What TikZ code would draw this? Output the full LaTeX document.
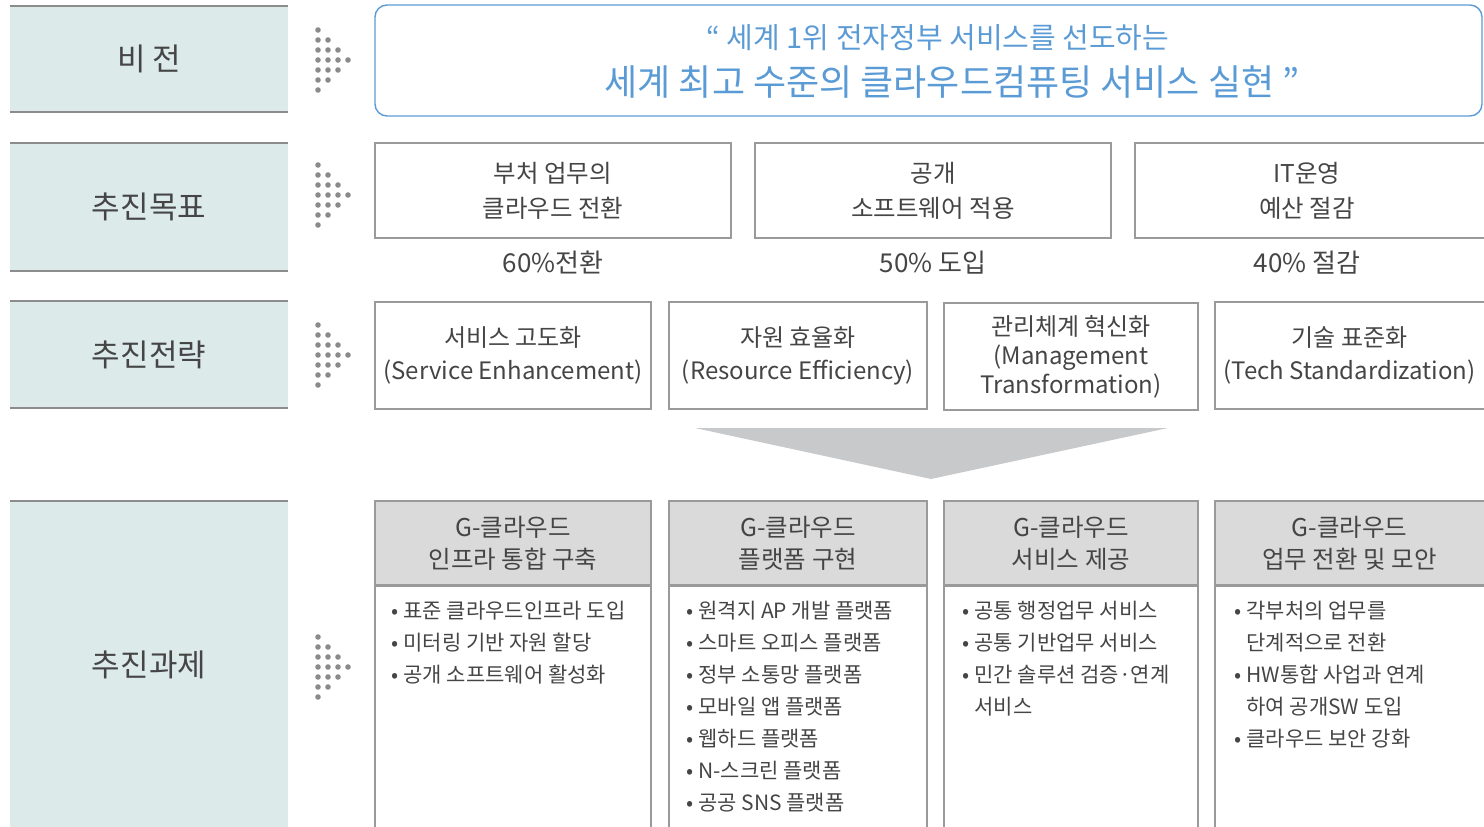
\documentclass[tikz,border=0pt]{standalone}
\usepackage{fontspec}
\setmainfont{Noto Sans CJK KR}
\usetikzlibrary{positioning}

\definecolor{labelfill}{HTML}{DDEAEA}
\definecolor{labelline}{HTML}{8C8C8C}
\definecolor{boxline}{HTML}{9A9A9A}
\definecolor{headfill}{HTML}{DADADA}
\definecolor{visionblue}{HTML}{5B9BD5}
\definecolor{textgray}{HTML}{454545}
\definecolor{dotgray}{HTML}{8A8A8A}
\definecolor{arrowgray}{HTML}{C8C9CB}

% dotted pointer left of every row
\newcommand{\dotpointer}[1]{%
  \foreach \row in {-3,...,3}{
    \pgfmathtruncatemacro{\ndots}{4-abs(\row)}
    \foreach \col in {1,...,\ndots}{
      \fill[dotgray] ({308+10*\col},{#1+10*\row}) circle (2.8pt);
    }
  }
}

\begin{document}
\begin{tikzpicture}[
    x=1pt, y=-1pt,
    every node/.style={text=textgray, inner sep=0pt},
    rowlabel/.style={fill=labelfill, minimum width=278pt, font=\fontsize{31}{34}\selectfont},
    labelrule/.style={draw=labelline, line width=1.6pt},
    goalbox/.style={draw=boxline, line width=1.3pt, align=center, font=\fontsize{24.5}{35}\selectfont},
    ratio/.style={font=\fontsize{26}{30}\selectfont},
    stratbox/.style={draw=boxline, line width=1.3pt, align=center, minimum height=107pt, font=\fontsize{24}{33}\selectfont},
    taskhead/.style={fill=headfill, draw=boxline, line width=1.3pt, align=center, minimum height=84pt, font=\fontsize{24.5}{32}\selectfont},
    taskbody/.style={draw=boxline, line width=1.3pt, minimum height=260pt},
    bullets/.style={align=left, anchor=north west, font=\fontsize{21}{32}\selectfont}
]
\useasboundingbox (0,0) rectangle (1484,827);
\clip (0,0) rectangle (1484,827);

% Row labels
\node[rowlabel, minimum height=106pt] (lvision) at (149,59) {비 전};
\node[rowlabel, minimum height=128pt] (lgoal) at (149,207) {추진목표};
\node[rowlabel, minimum height=107pt] (lstrat) at (149,354.5) {추진전략};
\node[rowlabel, minimum height=328pt] (ltask) at (149,665) {추진과제};
\foreach \lbl in {lvision, lgoal, lstrat, ltask}{
  \draw[labelrule] (\lbl.north west) -- (\lbl.north east);
  \draw[labelrule] (\lbl.south west) -- (\lbl.south east);
}

% Pointers
\dotpointer{60}
\dotpointer{195}
\dotpointer{355}
\dotpointer{667}

% Vision
\node[draw=visionblue, line width=1.4pt, rounded corners=12pt,
      minimum width=1107pt, minimum height=111pt] (vision) at (928.5,60.5) {};
\node[align=center, text=visionblue] (visiontext) at (952,61)
  {{\fontsize{29}{32}\selectfont \hspace*{-28pt}“ 세계 1위 전자정부 서비스를 선도하는}\\[14pt]
   {\fontsize{36}{40}\selectfont 세계 최고 수준의 클라우드컴퓨팅 서비스 실현 ”}};

% Goals
\node[goalbox, minimum width=356pt, minimum height=95pt] (goalA) at (553,190.5) {부처 업무의\\클라우드 전환};
\node[goalbox, minimum width=356pt, minimum height=95pt] (goalB) at (933,190.5) {공개\\소프트웨어 적용};
\node[goalbox, minimum width=360pt, minimum height=95pt] (goalC) at (1315,190.5) {\hspace*{-16pt}IT운영\\\hspace*{-16pt}예산 절감};
\node[ratio, below=12pt of goalA] (ratioA) {60\%전환};
\node[ratio, below=12pt of goalB] (ratioB) {50\% 도입};
\node[ratio, below=12pt of goalC, xshift=-8pt] (ratioC) {40\% 절감};

% Strategies
\node[stratbox, minimum width=276pt] (stratA) at (513,355.5) {서비스 고도화\\(Service Enhancement)};
\node[stratbox, minimum width=258pt] (stratB) at (798,355.5) {자원 효율화\\(Resource Efficiency)};
\node[stratbox, minimum width=254pt, font=\fontsize{24}{29}\selectfont] (stratC) at (1071,356.5) {관리체계 혁신화\\(Management\\Transformation)};
\node[stratbox, minimum width=285pt] (stratD) at (1357.5,355.5) {\hspace*{-16pt}기술 표준화\\\hspace*{-16pt}(Tech Standardization)};

% Funnel arrow
\fill[arrowgray] (695,428) -- (1168,428) -- (931,479) -- cycle;

% Tasks
\node[taskhead, minimum width=276pt] (headA) at (513,543) {G-클라우드\\인프라 통합 구축};
\node[taskhead, minimum width=258pt] (headB) at (798,543) {G-클라우드\\플랫폼 구현};
\node[taskhead, minimum width=254pt] (headC) at (1071,543) {G-클라우드\\서비스 제공};
\node[taskhead, minimum width=285pt] (headD) at (1357.5,543) {\hspace*{-16pt}G-클라우드\\\hspace*{-16pt}업무 전환 및 모안};
\node[taskbody, minimum width=276pt, below=0pt of headA] (bodyA) {};
\node[taskbody, minimum width=258pt, below=0pt of headB] (bodyB) {};
\node[taskbody, minimum width=254pt, below=0pt of headC] (bodyC) {};
\node[taskbody, minimum width=285pt, below=0pt of headD] (bodyD) {};

\node[bullets] (listA) at ([xshift=17pt, yshift=-15pt]bodyA.north west)
  {• 표준 클라우드인프라 도입\\• 미터링 기반 자원 할당\\• 공개 소프트웨어 활성화};
\node[bullets] (listB) at ([xshift=18pt, yshift=-15pt]bodyB.north west)
  {• 원격지 AP 개발 플랫폼\\• 스마트 오피스 플랫폼\\• 정부 소통망 플랫폼\\• 모바일 앱 플랫폼\\• 웹하드 플랫폼\\• N-스크린 플랫폼\\• 공공 SNS 플랫폼};
\node[bullets] (listC) at ([xshift=19pt, yshift=-15pt]bodyC.north west)
  {• 공통 행정업무 서비스\\• 공통 기반업무 서비스\\• 민간 솔루션 검증·연계\\\phantom{• }서비스};
\node[bullets] (listD) at ([xshift=20pt, yshift=-15pt]bodyD.north west)
  {• 각부처의 업무를\\\phantom{• }단계적으로 전환\\• HW통합 사업과 연계\\\phantom{• }하여 공개SW 도입\\• 클라우드 보안 강화};
\end{tikzpicture}
\end{document}
